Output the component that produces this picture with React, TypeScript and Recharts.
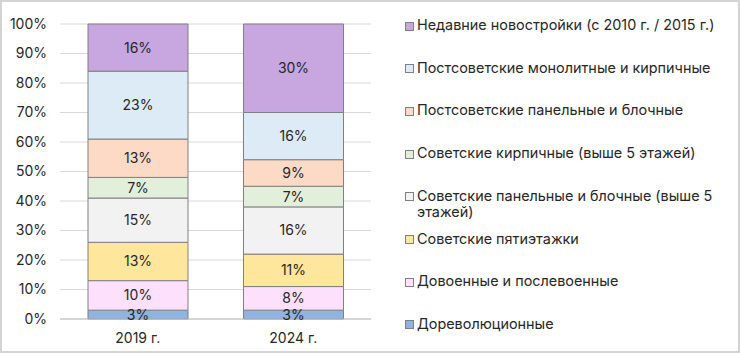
import { BarChart, Bar, XAxis, YAxis, CartesianGrid, LabelList } from "recharts";

const years = ["2019 г.", "2024 г."];

// bottom-to-top stacking order
const seriesNames = [
  "Дореволюционные",
  "Довоенные и послевоенные",
  "Советские пятиэтажки",
  "Советские панельные и блочные (выше 5 этажей)",
  "Советские кирпичные (выше 5 этажей)",
  "Постсоветские панельные и блочные",
  "Постсоветские монолитные и кирпичные",
  "Недавние новостройки (с 2010 г. / 2015 г.)",
];
const values2019 = [3, 10, 13, 15, 7, 13, 23, 16];
const values2024 = [3, 8, 11, 16, 7, 9, 16, 30];
const colors = ["#8EB4E3", "#FDE0FC", "#FFE69D", "#F2F2F2", "#E2EFDA", "#FCDAC6", "#DDEBF7", "#C8A6E0"];

const yTicks = [0, 10, 20, 30, 40, 50, 60, 70, 80, 90, 100];

const data = years.map((year, i) => {
  const row: Record<string, any> = { year };
  const vals = i === 0 ? values2019 : values2024;
  seriesNames.forEach((n, k) => (row["s" + k] = vals[k]));
  return row;
});

const font = "Inter, 'Open Sans', sans-serif";

export default function App() {
  return (
    <div
      style={{
        position: "absolute",
        left: 0,
        top: 0,
        width: 740,
        height: 353,
        boxSizing: "border-box",
        border: "2px solid #d4d4d4",
        background: "#fff",
        fontFamily: font,
      }}
    >
      <div style={{ position: "absolute", left: -2, top: -2 }}>
        <BarChart
          width={380}
          height={353}
          data={data}
          margin={{ top: 24, right: 9, bottom: 4, left: 0 }}
          barCategoryGap={28}
        >
          <CartesianGrid vertical={false} stroke="#d9d9d9" />
          <XAxis
            dataKey="year"
            tickLine={false}
            axisLine={{ stroke: "#bfbfbf" }}
            tickMargin={8}
            tick={{ fontSize: 14, fill: "#262626", fontFamily: font }}
          />
          <YAxis
            width={60}
            domain={[0, 100]}
            ticks={yTicks}
            tickFormatter={(v) => v + "%"}
            axisLine={false}
            tickLine={false}
            tickMargin={7}
            tick={{ fontSize: 14, fill: "#262626", fontFamily: font }}
          />
          {seriesNames.map((n, k) => (
            <Bar
              key={k}
              dataKey={"s" + k}
              name={n}
              stackId="a"
              fill={colors[k]}
              stroke="#808080"
              strokeWidth={1}
              isAnimationActive={false}
            >
              <LabelList
                dataKey={"s" + k}
                position="center"
                formatter={(v: any) => v + "%"}
                style={{ fontSize: 14, fill: "#262626", fontFamily: font }}
              />
            </Bar>
          ))}
        </BarChart>
      </div>
      {seriesNames
        .map((n, k) => ({ n, c: colors[k] }))
        .reverse()
        .map((item, i) => (
          <div
            key={i}
            style={{
              position: "absolute",
              left: 403,
              top: 15 + i * 42.7,
              display: "flex",
              alignItems: "flex-start",
              fontSize: 14.4,
              lineHeight: "16px",
              color: "#262626",
            }}
          >
            <span
              style={{
                width: 7,
                height: 7,
                marginTop: 4.5,
                marginRight: 3,
                background: item.c,
                border: "1px solid #808080",
                flexShrink: 0,
              }}
            />
            <span style={{ width: 305 }}>{item.n}</span>
          </div>
        ))}
    </div>
  );
}
